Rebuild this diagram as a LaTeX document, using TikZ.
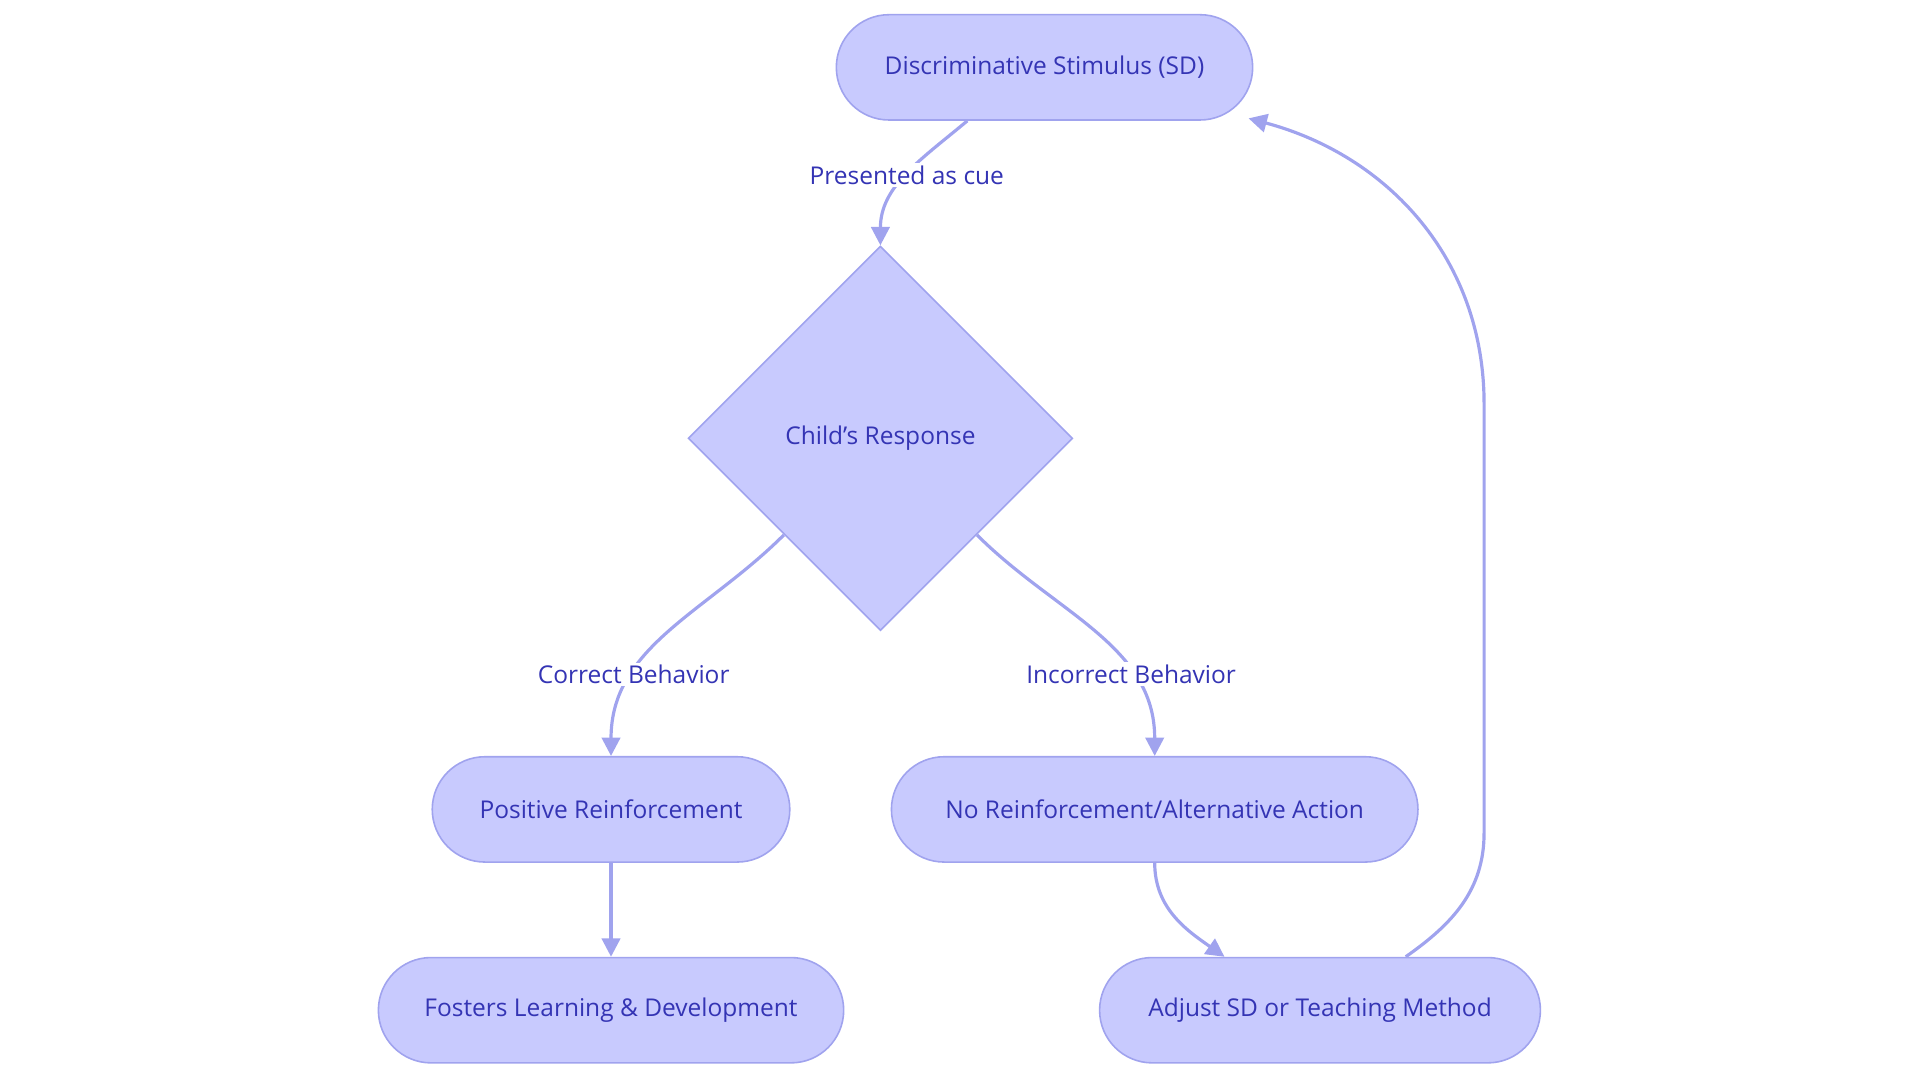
\documentclass[tikz,border=0pt]{standalone}
\usepackage{fontspec}
\setmainfont{Open Sans}
\usetikzlibrary{shapes.geometric,arrows.meta}
\definecolor{boxfill}{RGB}{200,202,254}
\definecolor{boxline}{RGB}{160,163,238}
\definecolor{boxtext}{RGB}{52,52,180}
\tikzset{
  stage/.style={draw=boxline,fill=boxfill,text=boxtext,line width=1.3pt,rounded corners=43pt,minimum height=86pt,font=\fontsize{20}{24}\selectfont},
  choice/.style={draw=boxline,fill=boxfill,text=boxtext,line width=1.3pt,diamond,aspect=1,minimum size=314pt,inner sep=0pt,font=\fontsize{20}{24}\selectfont},
  flow/.style={draw=boxline,line width=2.6pt,-{Triangle[length=15pt,width=15pt]}},
  lbl/.style={fill=white,text=boxtext,inner sep=2pt,font=\fontsize{20}{24}\selectfont}
}
\begin{document}
\begin{tikzpicture}[x=1pt,y=-1pt]
\useasboundingbox (0,0) rectangle (1568,880);
\node[stage,minimum width=340pt] (SD) at (853,55) {Discriminative Stimulus (SD)};
\node[choice] (CR) at (719,358) {Child's Response};
\node[stage,minimum width=292pt] (PR) at (499,661) {Positive Reinforcement};
\node[stage,minimum width=430pt] (NR) at (943,661) {No Reinforcement/Alternative Action};
\node[stage,minimum width=380pt] (FL) at (499,825) {Fosters Learning \& Development};
\node[stage,minimum width=360pt] (ADJ) at (1078,825) {Adjust SD or Teaching Method};
\coordinate (up1) at (1212,680);
\coordinate (up2) at (1212,330);

\draw[flow] ([xshift=-63pt]SD.south) to[out=-140,in=90] node[lbl,pos=0.5] {Presented as cue} (CR.north);
\draw[flow] (CR.south west) to[out=-135,in=90] node[lbl,pos=0.7] {Correct Behavior} (PR.north);
\draw[flow] (CR.south east) to[out=-45,in=90] node[lbl,pos=0.7] {Incorrect Behavior} (NR.north);
\draw[flow] (PR) -- (FL);
\draw[flow] (NR.south) to[out=-90,in=145] ([xshift=-78pt]ADJ.north);
\draw[flow] ([xshift=70pt]ADJ.north) to[out=35,in=-90] (up1) -- (up2) to[out=90,in=-15] ([xshift=-4pt,yshift=2pt]SD.south east);
\end{tikzpicture}
\end{document}
